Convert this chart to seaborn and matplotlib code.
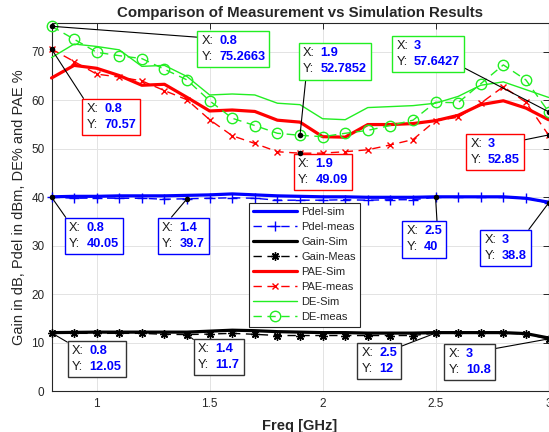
import matplotlib
matplotlib.use("Agg")
import matplotlib.pyplot as plt
import seaborn as sns
import pandas as pd
from matplotlib.offsetbox import TextArea, HPacker, AnnotationBbox

# ---------------- data ----------------
freq = [0.8, 0.9, 1.0, 1.1, 1.2, 1.3, 1.4, 1.5, 1.6, 1.7, 1.8, 1.9,
        2.0, 2.1, 2.2, 2.3, 2.4, 2.5, 2.6, 2.7, 2.8, 2.9, 3.0]

pdel_sim = [40.1, 40.2, 40.2, 40.3, 40.3, 40.3, 40.4, 40.5, 40.7, 40.5, 40.3, 40.2,
            40.1, 40.1, 40.0, 40.0, 40.0, 40.1, 40.1, 40.1, 40.1, 39.8, 39.0]
pdel_meas = [40.05, 39.8, 39.85, 39.8, 39.8, 39.6, 39.7, 39.8, 39.9, 39.8, 39.4, 39.4,
             39.4, 39.5, 39.4, 39.5, 39.5, 40, 40.0, 40.0, 40.0, 39.9, 38.8]
gain_sim = [12.1, 12.15, 12.2, 12.2, 12.2, 12.2, 12.2, 12.4, 12.6, 12.5, 12.3, 12.2,
            12.1, 12.1, 12.0, 12.0, 12.0, 12.1, 12.1, 12.1, 12.1, 11.9, 11.0]
gain_meas = [12.05, 11.95, 11.95, 11.95, 11.95, 11.75, 11.7, 11.8, 11.95, 11.75, 11.5, 11.5,
             11.5, 11.5, 11.5, 11.5, 11.5, 12, 12.0, 12.0, 12.0, 11.85, 10.8]
pae_sim = [64.6, 67.2, 66.6, 65.1, 63.1, 63.3, 60.6, 57.8, 58.0, 57.7, 55.9, 55.5,
           52.5, 52.4, 55.0, 55.0, 55.2, 55.8, 56.9, 59.1, 59.9, 58.4, 56.0]
pae_meas = [70.57, 68.0, 65.4, 64.8, 64.0, 62.0, 60.1, 56.0, 52.7, 51.1, 49.4, 49.09,
            49.1, 49.4, 49.8, 50.8, 51.9, 55.8, 56.5, 59.4, 62.8, 59.6, 52.85]
de_sim = [68.8, 71.6, 71.1, 70.4, 67.0, 67.2, 64.9, 61.1, 61.3, 61.1, 59.4, 59.1,
          56.2, 56.0, 58.5, 58.7, 58.9, 59.4, 60.8, 63.1, 63.8, 62.2, 60.6]
de_meas = [75.2663, 72.6, 69.9, 69.2, 68.6, 66.4, 64.2, 59.9, 56.3, 54.8, 53.2, 52.7852,
           52.5, 53.2, 53.8, 54.8, 55.9, 59.6, 59.5, 63.4, 67.3, 64.2, 57.6427]

series_names = ["Pdel-sim", "Pdel-meas", "Gain-Sim", "Gain-Meas",
                "PAE-Sim", "PAE-meas", "DE-Sim", "DE-meas"]
series_vals = [pdel_sim, pdel_meas, gain_sim, gain_meas,
               pae_sim, pae_meas, de_sim, de_meas]

# data tips: (series, frequency)
tip_series = ["DE-meas", "PAE-meas", "DE-meas", "DE-meas", "PAE-meas", "PAE-meas",
              "Pdel-meas", "Pdel-meas", "Pdel-meas", "Pdel-meas",
              "Gain-Meas", "Gain-Meas", "Gain-Meas", "Gain-Meas"]
tip_freq = [0.8, 0.8, 1.9, 3.0, 1.9, 3.0,
            0.8, 1.4, 2.5, 3.0,
            0.8, 1.4, 2.5, 3.0]

# ---------------- styling ----------------
BLUE = "#0000ff"
RED = "#ff0000"
GREEN = "#22ee22"
BLACK = "#000000"

styles = {
    "Pdel-sim":  dict(color=BLUE, lw=2.3, ls="-", marker=None),
    "Pdel-meas": dict(color=BLUE, lw=1.0, ls=(0, (6, 4)), marker="+", ms=7),
    "Gain-Sim":  dict(color=BLACK, lw=2.3, ls="-", marker=None),
    "Gain-Meas": dict(color=BLACK, lw=1.0, ls=(0, (6, 4)), marker=(8, 2, 0), ms=6),
    "PAE-Sim":   dict(color=RED, lw=2.3, ls="-", marker=None),
    "PAE-meas":  dict(color=RED, lw=1.0, ls=(0, (6, 4)), marker="x", ms=5),
    "DE-Sim":    dict(color=GREEN, lw=1.0, ls="-", marker=None),
    "DE-meas":   dict(color=GREEN, lw=1.0, ls=(0, (6, 4)), marker="o", ms=7.5),
}
tip_edge = {"DE-meas": GREEN, "PAE-meas": RED, "Pdel-meas": BLUE, "Gain-Meas": "#333333"}

# layout of the tips: offset (pixels) of box top-left from point, and relpos of connector
tip_layout = [((150, -9), (0, 0.92)),
              ((35, -54), (0, 1)),
              ((3, 88), (0.05, 0)),
              ((-152, 72), (1, 0.07)),
              ((-2, -5), (0.05, 1)),
              ((-78, -3), (1, 0.9)),
              ((17.5, -25), (0, 1)),
              ((-25, -23), (0.13, 1)),
              ((-29, -28), (0.87, 1)),
              ((-64, -31), (0.96, 1)),
              ((20.5, -12), (0, 1)),
              ((11, -8.5), (0, 1)),
              ((-74, -14), (1, 0.97)),
              ((-100, -9), (1, 0.95))]

sns.set_style("white")
plt.rcParams["font.family"] = ["Liberation Sans", "DejaVu Sans"]

W, H = 549, 432
fig = plt.figure(figsize=(W / 100, H / 100), dpi=100)
ax = fig.add_axes([51.5 / W, (H - 391.3) / H, (548.5 - 51.5) / W, (391.3 - 22.7) / H])

df = pd.DataFrame({"freq": freq})
for name, vals in zip(series_names, series_vals):
    df[name] = vals

for name in series_names:
    st = styles[name]
    kw = dict(color=st["color"], linewidth=st["lw"], linestyle=st["ls"], label=name,
              clip_on=False, zorder=3)
    if st["marker"] is not None:
        kw.update(marker=st["marker"], markersize=st["ms"],
                  markeredgecolor=st["color"], markeredgewidth=1.0,
                  markerfacecolor="none")
    sns.lineplot(data=df, x="freq", y=name, ax=ax, sort=False, **kw)

# tips
tip_x, tip_y = [], []
for s, f in zip(tip_series, tip_freq):
    i = freq.index(f)
    tip_x.append(f)
    tip_y.append(df[s].iloc[i])

for (s, fx, fy, (off, rel)) in zip(tip_series, tip_x, tip_y, tip_layout):
    lab = TextArea("X:\nY:", textprops=dict(fontsize=9.2, color="#1a1a1a", linespacing=1.45))
    val = TextArea(f"{fx:g}\n{fy:g}", textprops=dict(fontsize=9.2, color="#0000ff",
                                                       fontweight="bold", linespacing=1.45))
    box = HPacker(children=[lab, val], sep=4, pad=0, align="baseline")
    ab = AnnotationBbox(box, (fx, fy), xybox=off, xycoords="data",
                        boxcoords="offset pixels", box_alignment=(0, 1),
                        pad=0.45, frameon=True,
                        bboxprops=dict(edgecolor=tip_edge[s], lw=1.0, facecolor="white",
                                       boxstyle="square"),
                        arrowprops=dict(arrowstyle="-", color="black", lw=0.8,
                                        shrinkA=0, shrinkB=0, relpos=rel),
                        annotation_clip=False, zorder=6)
    ax.add_artist(ab)

sns.scatterplot(x=tip_x, y=tip_y, ax=ax, color="black", s=16, linewidth=0, zorder=7,
                clip_on=False, legend=False)

ax.set_xlim(0.8, 3.0)
ax.set_ylim(0, 76)
ax.set_xticks([1, 1.5, 2, 2.5, 3])
ax.set_xticklabels(["1", "1.5", "2", "2.5", "3"])
ax.set_yticks(range(0, 80, 10))
ax.grid(True, color="#e3e3e3", lw=0.7)
ax.set_axisbelow(True)
for sp in ax.spines.values():
    sp.set_visible(True)
    sp.set_color("#262626")
    sp.set_linewidth(0.8)
ax.tick_params(direction="in", top=True, right=True, length=4, width=0.7,
               labelsize=8.5, colors="#262626", pad=5)
for lbl in ax.get_xticklabels() + ax.get_yticklabels():
    lbl.set_color("#262626")

ax.set_title("Comparison of Measurement vs Simulation Results", fontsize=10.8,
             fontweight="bold", pad=4)
ax.set_xlabel("Freq [GHz]", fontsize=10.5, fontweight="bold", labelpad=6)
ax.set_ylabel("Gain in dB, Pdel in dBm, DE% and PAE %", fontsize=10.5, labelpad=4,
              color="#262626")

leg = ax.legend(loc="upper left", bbox_to_anchor=(0.397, 0.5115), fontsize=8.0,
                handlelength=3.9, handletextpad=0.4, labelspacing=0.45,
                borderpad=0.4, borderaxespad=0, frameon=True, fancybox=False,
                framealpha=1, edgecolor="#262626")
leg.get_frame().set_linewidth(0.8)
leg.set_zorder(5)

fig.savefig("out.png", dpi=100)
